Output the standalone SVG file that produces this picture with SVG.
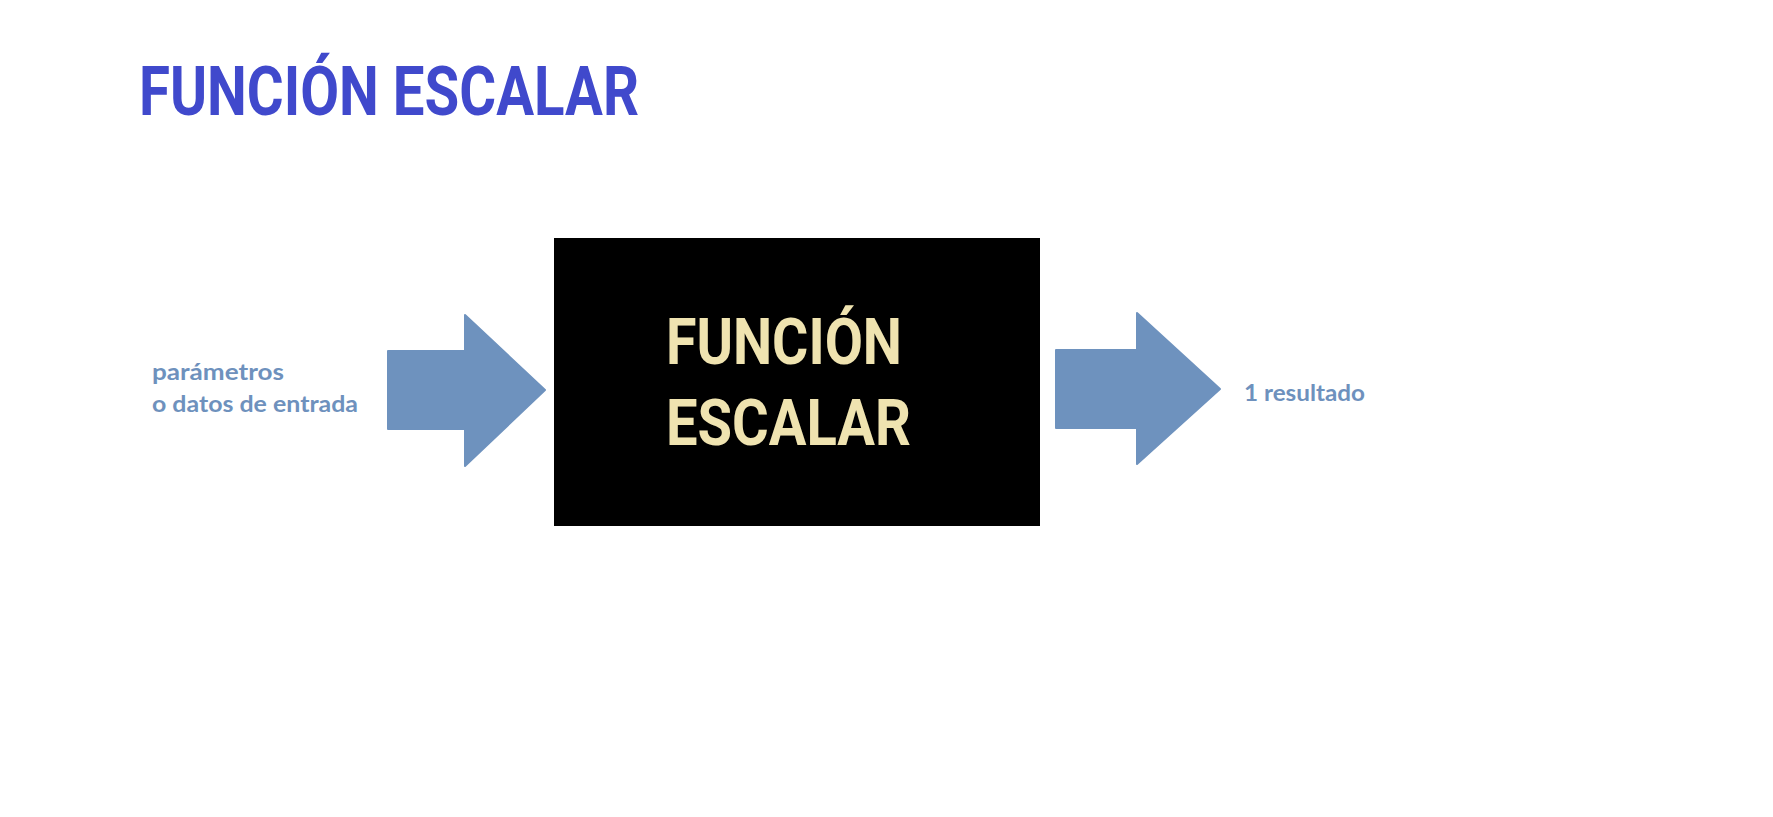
<svg xmlns="http://www.w3.org/2000/svg" width="1773" height="817" viewBox="0 0 1773 817">
<style>
.title{font-family:Roboto,"Liberation Sans",sans-serif;font-weight:700;font-size:68px;fill:#4049cc}
.box-text{font-family:Roboto,"Liberation Sans",sans-serif;font-weight:700;font-size:65px;fill:#efe3b0}
.label{font-family:Lato,"Open Sans",sans-serif;font-weight:700;font-size:22px;fill:#6e91bd}
.arrow{fill:#6e92be;stroke:#6e92be;stroke-width:2;stroke-linejoin:round}
</style>
<rect width="1773" height="817" fill="#ffffff"/>
<text class="title" x="139" y="115" textLength="500" lengthAdjust="spacingAndGlyphs">FUNCIÓN ESCALAR</text>
<g id="input-label">
<text class="label" x="152" y="380" textLength="132" lengthAdjust="spacingAndGlyphs">parámetros</text>
<text class="label" x="152" y="412" textLength="206" lengthAdjust="spacingAndGlyphs">o datos de entrada</text>
</g>
<g id="connectors">
<polygon class="arrow" points="388,351 465,351 465,315 545,390 465,466 465,429 388,429"/>
<polygon class="arrow" points="1056,350 1137,350 1137,313 1220,389 1137,464 1137,428 1056,428"/>
</g>
<g id="function-box">
<rect x="554" y="238" width="486" height="288" fill="#000000"/>
<text class="box-text" x="666" y="364" textLength="236" lengthAdjust="spacingAndGlyphs">FUNCIÓN</text>
<text class="box-text" x="666" y="445" textLength="245" lengthAdjust="spacingAndGlyphs">ESCALAR</text>
</g>
<g id="output-label">
<text class="label" x="1244" y="401" textLength="121" lengthAdjust="spacingAndGlyphs">1 resultado</text>
</g>
</svg>
